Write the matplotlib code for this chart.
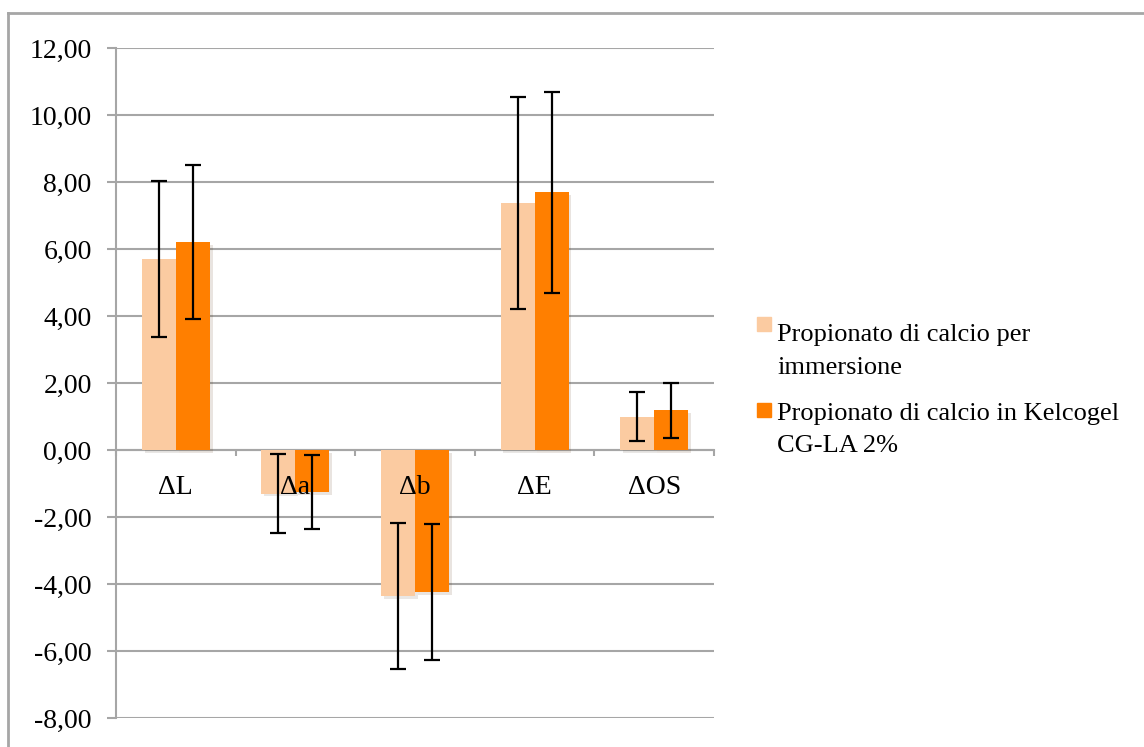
import numpy as np
import matplotlib.pyplot as plt
import matplotlib.patheffects as pe
from matplotlib.lines import Line2D
from matplotlib.patches import Rectangle

# data
categories = ['ΔL', 'Δa', 'Δb', 'ΔE', 'ΔOS']
immersione = [5.70, -1.30, -4.37, 7.38, 0.99]
immersione_err = [2.33, 1.17, 2.18, 3.17, 0.73]
kelcogel = [6.21, -1.25, -4.25, 7.69, 1.18]
kelcogel_err = [2.29, 1.10, 2.03, 3.00, 0.82]
label_1 = 'Propionato di calcio per\nimmersione'
label_2 = 'Propionato di calcio in Kelcogel\nCG-LA 2%'

light = '#FBCBA1'
orange = '#FF7F00'
grid_grey = '#A6A6A6'

plt.rcParams['font.family'] = ['Liberation Serif', 'DejaVu Serif']

W, H = 1144, 747
fig = plt.figure(figsize=(W/100, H/100), dpi=100)
ax = fig.add_axes([116/W, 1-718/H, (714-116)/W, (718-48)/H])

x = np.arange(len(categories))
w = 0.284
shadow = [pe.SimplePatchShadow(offset=(2, -2), alpha=0.12), pe.Normal()]
b1 = ax.bar(x - w/2, immersione, w, color=light, zorder=3)
b2 = ax.bar(x + w/2, kelcogel, w, color=orange, zorder=3)
for b in list(b1) + list(b2):
    b.set_path_effects(shadow)

ax.errorbar(x - w/2, immersione, yerr=immersione_err, fmt='none', ecolor='black',
            elinewidth=1.6, capsize=6, capthick=1.6, zorder=4)
ax.errorbar(x + w/2, kelcogel, yerr=kelcogel_err, fmt='none', ecolor='black',
            elinewidth=1.6, capsize=6, capthick=1.6, zorder=4)

ax.set_xlim(-0.5, len(categories) - 0.5)
ax.set_ylim(-8, 12)
ax.set_yticks(np.arange(-8, 13, 2))
ax.yaxis.set_major_formatter(plt.FuncFormatter(lambda v, p: ('%.2f' % v).replace('.', ',')))
ax.grid(axis='y', color=grid_grey, linewidth=1.5, zorder=0)
ax.tick_params(axis='y', length=6.5, width=1.5, color=grid_grey, pad=11, labelsize=20)

# x axis sits on the zero line, ticks between the categories
ax.spines['bottom'].set_position(('data', 0))
ax.spines['bottom'].set_color(grid_grey)
ax.spines['bottom'].set_linewidth(1.5)
ax.set_xticks(np.arange(-0.5, len(categories), 1))
ax.tick_params(axis='x', length=4, width=1.5, color=grid_grey, labelbottom=False)
for s in ['top', 'right']:
    ax.spines[s].set_visible(False)
ax.spines['left'].set_color(grid_grey)
ax.spines['left'].set_linewidth(1.5)

# category names drawn over the bars, just under the zero line
for xi, cat in zip(x, categories):
    ax.annotate(cat, (xi, 0), xytext=(0, -18), textcoords='offset points',
                ha='center', va='top', fontsize=20, zorder=6)

# legend drawn by hand so the wrapped lines get the wide spacing
for y_box, y_base, col, lab in [(317, 341, light, label_1), (403, 420, orange, label_2)]:
    fig.add_artist(Rectangle((757/W, 1-(y_box+14)/H), 14/W, 14/H, color=col,
                             transform=fig.transFigure))
    for i, line in enumerate(lab.split('\n')):
        fig.text(777/W, 1-(y_base+32.5*i)/H, line, fontsize=19, va='baseline', ha='left')

# outer chart frame (cut off at right and bottom)
fig.add_artist(Line2D([8/W, 1], [1-13/H, 1-13/H], color=grid_grey, lw=2,
                      transform=fig.transFigure))
fig.add_artist(Line2D([8/W, 8/W], [0, 1-13/H], color=grid_grey, lw=2,
                      transform=fig.transFigure))

fig.savefig('out.png', dpi=100)
